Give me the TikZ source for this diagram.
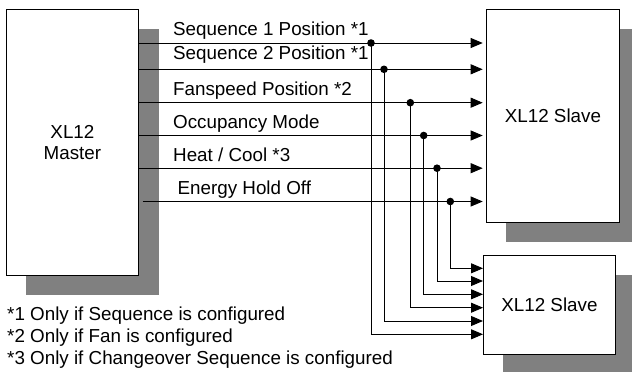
\documentclass[tikz,border=0pt]{standalone}
\usepackage{fontspec}
\setmainfont{Liberation Sans}
\usetikzlibrary{arrows.meta}
\definecolor{shadowgray}{RGB}{128,128,128}
\begin{document}
\begin{tikzpicture}[x=1pt,y=-1pt,
  font=\fontsize{18.8}{21}\selectfont,
  box/.style={draw=black, line width=0.9pt, fill=white, inner sep=0pt, anchor=north west, align=center},
  shade/.style={fill=shadowgray},
  conn/.style={draw=black, line width=0.9pt, -{Triangle[length=12pt,width=10pt]}},
  lbl/.style={anchor=base west, inner sep=0pt},
  tap/.style={fill=black}]
\useasboundingbox (0,0) rectangle (632,372);
% shadows
\fill[shade] (26,29) rectangle (159,295);
\fill[shade] (506,29) rectangle (632,242);
\fill[shade] (503,275) rectangle (632,372);
% boxes
\node[box, minimum width=132pt, minimum height=266pt] (master) at (6,9) {XL12\\Master};
\node[box, minimum width=133pt, minimum height=213pt] (slave1) at (486,9) {XL12 Slave};
\node[box, minimum width=132pt, minimum height=99pt] (slave2) at (483,255) {XL12 Slave};
% taps
\coordinate (t1) at (371,43);
\coordinate (t2) at (384,69.3);
\coordinate (t3) at (410.3,102.7);
\coordinate (t4) at (423.7,135.5);
\coordinate (t5) at (437,168.2);
\coordinate (t6) at (450.3,201.5);
\coordinate (in1) at (slave2.west |- 0,334.3);
\coordinate (in2) at (slave2.west |- 0,321);
\coordinate (in3) at (slave2.west |- 0,307.7);
\coordinate (in4) at (slave2.west |- 0,294.3);
\coordinate (in5) at (slave2.west |- 0,281);
\coordinate (in6) at (slave2.west |- 0,268.3);
% main lines
\foreach \i in {1,...,5}{
  \draw[conn, shorten >=3.3pt] (master.east |- t\i) -- (slave1.west |- t\i);
}
\draw[conn, shorten >=3.3pt] ([xshift=4pt]master.east |- t6) -- (slave1.west |- t6);
% branches
\foreach \i in {1,...,6}{
  \draw[conn] (t\i) |- (in\i);
  \fill[tap] (t\i) circle[radius=3.8pt];
}
% labels
\node[lbl] (l1) at (173,35.7) {Sequence 1 Position *1};
\node[lbl] (l2) at (173,59.5) {Sequence 2 Position *1};
\node[lbl] (l3) at (173,95) {Fanspeed Position *2};
\node[lbl] (l4) at (173,128) {Occupancy Mode};
\node[lbl] (l5) at (173,161) {Heat / Cool *3};
\node[lbl] (l6) at (177.5,194.3) {Energy Hold Off};
% footnotes
\node[lbl] (f1) at (7,320.7) {*1 Only if Sequence is configured};
\node[lbl] (f2) at (7,342.5) {*2 Only if Fan is configured};
\node[lbl] (f3) at (7,364) {*3 Only if Changeover Sequence is configured};
\end{tikzpicture}
\end{document}
